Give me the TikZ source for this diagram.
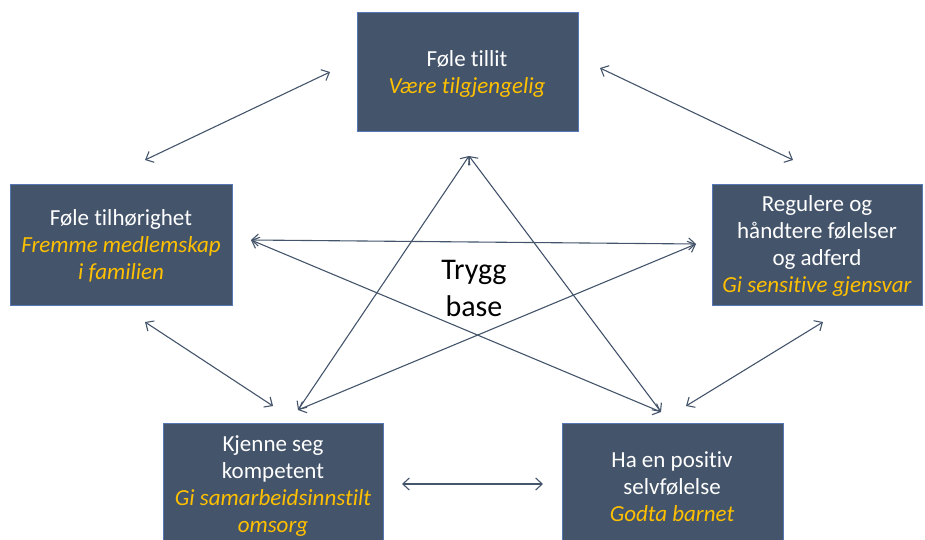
\documentclass[tikz,border=0pt]{standalone}
\usepackage{fontspec}
\setmainfont{Carlito}[Ligatures=NoCommon]
\usetikzlibrary{arrows.meta}
\definecolor{boxblue}{HTML}{44546A}
\definecolor{edgeblue}{HTML}{5677B5}
\definecolor{gold}{HTML}{FFC000}
\newcommand\subtxt[1]{{\color{gold}\itshape #1}}
\begin{document}
\begin{tikzpicture}[x=1pt,y=-1pt,
  card/.style={draw=edgeblue, line width=0.7pt, fill=boxblue, rectangle, inner sep=0pt},
  cardtext/.style={align=center, text=white, font=\fontsize{23}{27}\selectfont, inner sep=0pt},
  link/.style={draw=boxblue, line width=1.1pt, {Straight Barb[length=6.5pt,width=12pt]}-{Straight Barb[length=6.5pt,width=12pt]}}
]
\useasboundingbox (0,0) rectangle (925,540);
% boxes
\node[card, minimum width=221pt, minimum height=119pt] (top) at (467.5,71.5) {};
\node[card, minimum width=222pt, minimum height=121pt] (left) at (121.5,244.5) {};
\node[card, minimum width=210pt, minimum height=121pt] (right) at (817.5,244.5) {};
\node[card, minimum width=220pt, minimum height=130pt] (bl) at (273,488) {};
\node[card, minimum width=221pt, minimum height=130pt] (br) at (672.5,488) {};
% texts
\node[cardtext] (toptxt) at (467,74) {Føle tillit\\\subtxt{Være tilgjengelig}};
\node[cardtext] (lefttxt) at (121,246) {Føle tilhørighet\\\subtxt{Fremme medlemskap}\\\subtxt{i familien}};
\node[cardtext] (righttxt) at (817,246) {Regulere og\\håndtere følelser\\og adferd\\\subtxt{Gi sensitive gjensvar}};
\node[cardtext] (bltxt) at (273,486) {Kjenne seg\\kompetent\\\subtxt{Gi samarbeidsinnstilt}\\\subtxt{omsorg}};
\node[cardtext] (brtxt) at (672,487) {Ha en positiv\\selvfølelse\\\subtxt{Godta barnet}};
\node[align=center, font=\fontsize{30}{37}\selectfont, inner sep=0pt] (center) at (474,288.5) {Trygg\\base};
% endpoints
\coordinate (tl1) at (330,72);
\coordinate (tl2) at (145,160);
\coordinate (tr1) at (600,68);
\coordinate (tr2) at (793,160);
\coordinate (rb1) at (823,322);
\coordinate (rb2) at (686,406);
\coordinate (lb1) at (145,322);
\coordinate (lb2) at (273,406);
\coordinate (bb1) at (402,484);
\coordinate (bb2) at (543,484);
\coordinate (sL) at (251,240);
\coordinate (sR) at (696,244);
\coordinate (sT) at (469,156);
\coordinate (sBL) at (298,410);
\coordinate (sBR) at (661,412);
% connectors
\draw[link] (tl1) -- (tl2);
\draw[link] (tr1) -- (tr2);
\draw[link] (rb1) -- (rb2);
\draw[link] (lb1) -- (lb2);
\draw[link] (bb1) -- (bb2);
\draw[link] (sL) -- (sR);
\draw[link] (sL) -- (sBR);
\draw[link] (sR) -- (sBL);
\draw[link] (sT) -- (sBL);
\draw[link] (sT) -- (sBR);
\end{tikzpicture}
\end{document}
